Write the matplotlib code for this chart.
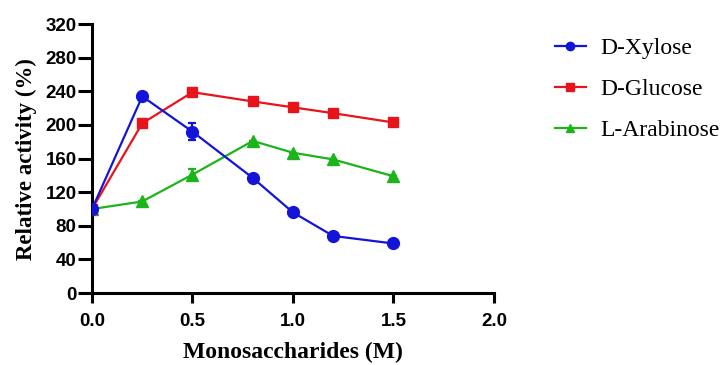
import matplotlib
matplotlib.use("Agg")
import matplotlib.pyplot as plt
from matplotlib.lines import Line2D

# data
conc = [0.0, 0.25, 0.5, 0.8, 1.0, 1.2, 1.5]
xylose = [100, 234, 192, 137, 96, 68, 59]
xylose_err = [0, 0, 10, 0, 0, 0, 0]
glucose = [100, 202, 239, 228, 221, 214, 203]
glucose_err = [0, 0, 0, 0, 0, 0, 0]
arabinose = [100, 109, 141, 181, 167, 159, 139]
arabinose_err = [0, 0, 7, 0, 0, 0, 0]

names = ["D-Xylose", "D-Glucose", "L-Arabinose"]
yticks = list(range(0, 321, 40))
xticks = [0.0, 0.5, 1.0, 1.5, 2.0]

fig = plt.figure(figsize=(7.28, 3.65), dpi=100)
ax = fig.add_axes([0.1264, 0.197, 0.552, 0.737])

serif = "Liberation Serif"
sans = "Liberation Sans"

c_x, c_g, c_a = "#1414d8", "#e8141b", "#1bb51b"

# green under red under blue, as in the picture
ax.errorbar(conc, arabinose, yerr=arabinose_err, color=c_a, marker="^",
            markersize=8, lw=1.6, capsize=3, elinewidth=1.6, capthick=1.6, zorder=3)
ax.errorbar(conc, glucose, yerr=glucose_err, color=c_g, marker="s",
            markersize=7.5, lw=1.6, capsize=3, elinewidth=1.6, capthick=1.6, zorder=4)
ax.errorbar(conc, xylose, yerr=xylose_err, color=c_x, marker="o",
            markersize=8.5, lw=1.6, capsize=3, elinewidth=1.6, capthick=1.6, zorder=5)

ax.set_xlim(0, 2.0)
ax.set_ylim(0, 320)
ax.set_xticks(xticks)
ax.set_xticklabels([f"{t:.1f}" for t in xticks])
ax.set_yticks(yticks)
for s in ["top", "right"]:
    ax.spines[s].set_visible(False)
for s in ["left", "bottom"]:
    ax.spines[s].set_linewidth(2.2)
ax.tick_params(axis="x", length=7.5, width=2.2, labelsize=13.5, pad=6.5)
ax.tick_params(axis="y", length=10, width=2.2, labelsize=13.5, pad=1)
for lab in ax.get_xticklabels() + ax.get_yticklabels():
    lab.set_fontfamily(sans)
    lab.set_fontweight("bold")

ax.set_xlabel("Monosaccharides (M)", fontfamily=serif, fontweight="bold", fontsize=17, labelpad=9)
ax.set_ylabel("Relative activity (%)", fontfamily=serif, fontweight="bold", fontsize=16.5, labelpad=6)

handles = [Line2D([], [], color=c_x, marker="o", lw=1.6, markersize=6),
           Line2D([], [], color=c_g, marker="s", lw=1.6, markersize=5.5),
           Line2D([], [], color=c_a, marker="^", lw=1.6, markersize=6)]
fig.legend(handles, names, loc="upper left", bbox_to_anchor=(0.7624, 0.897),
           frameon=False, prop={"family": serif, "size": 17}, handlelength=1.3,
           handletextpad=0.62, labelspacing=0.82, borderpad=0, borderaxespad=0)

fig.savefig("out.png", dpi=100)
